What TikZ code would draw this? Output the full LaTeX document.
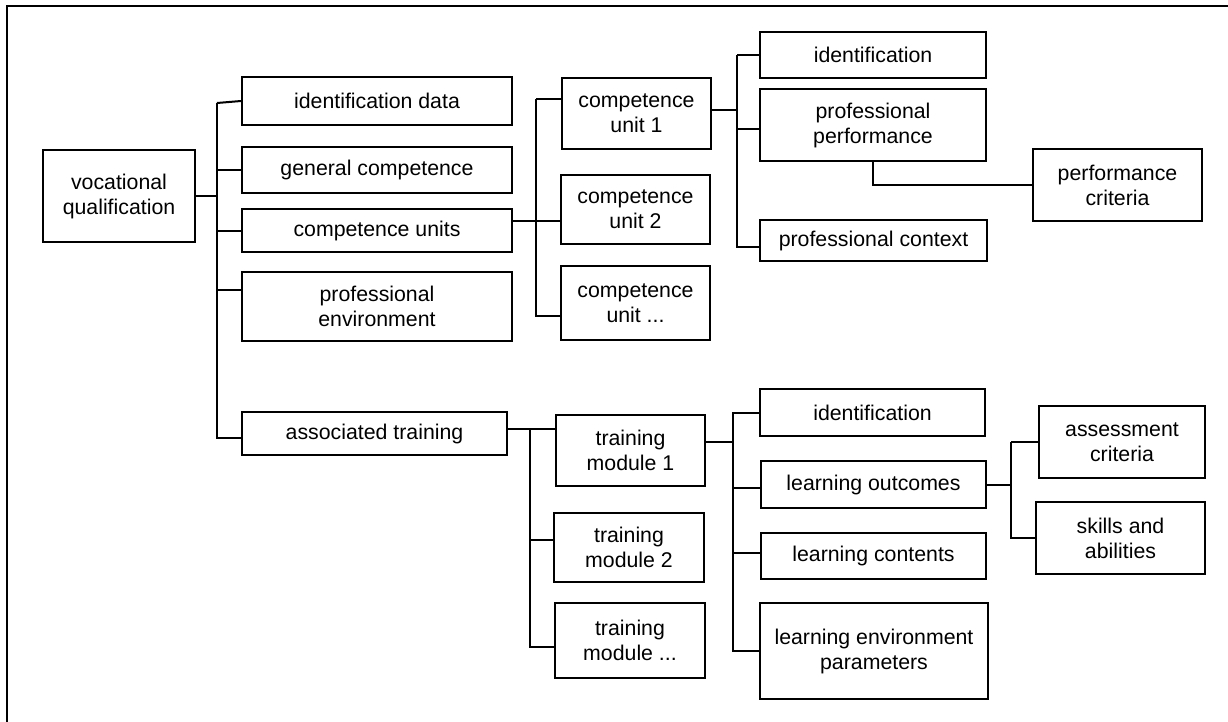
\documentclass[tikz,border=0pt]{standalone}
\usepackage{fontspec}
\setmainfont{Liberation Sans}

\begin{document}
\begin{tikzpicture}[x=1pt, y=-1pt, line width=2pt,
    box/.style={draw, align=center, inner sep=0pt, font=\fontsize{21.3}{25}\selectfont}]
    \useasboundingbox (0,0) rectangle (1228,722);
    % frame
    \draw (7,722) -- (7,6) -- (1228,6);

    % qualification and its parts
    \node[box, minimum width=152pt, minimum height=92pt] (vq) at (119,196) {vocational\\qualification};
    \node[box, minimum width=270pt, minimum height=48pt] (idd) at (377,101) {identification data};
    \node[box, minimum width=270pt, minimum height=46pt] (gc) at (377,170) {general competence};
    \node[box, minimum width=270pt, minimum height=43pt] (cus) at (377,230.5) {competence units};
    \node[box, minimum width=270pt, minimum height=69pt] (pe) at (377,306.5) {professional\\environment};
    \node[box, minimum width=265pt, minimum height=43pt] (at) at (374.5,433.5) {associated training};

    % competence units
    \node[box, minimum width=149pt, minimum height=71pt] (cu1) at (636.5,113.5) {competence\\unit 1};
    \node[box, minimum width=149pt, minimum height=69pt] (cu2) at (635.5,209.5) {competence\\unit 2};
    \node[box, minimum width=149pt, minimum height=74pt] (cu3) at (635.5,303) {competence\\unit ...};
    \node[box, minimum width=226pt, minimum height=46pt] (id1) at (873,55) {identification};
    \node[box, minimum width=226pt, minimum height=72pt] (pp) at (873,125) {professional\\performance};
    \node[box, minimum width=227pt, minimum height=41pt] (pc) at (873.5,240.5) {professional context};
    \node[box, minimum width=169pt, minimum height=72pt] (pcr) at (1117.5,185) {performance\\criteria};

    % training modules
    \node[box, minimum width=149pt, minimum height=71pt] (tm1) at (630.5,450.5) {training\\module 1};
    \node[box, minimum width=150pt, minimum height=69pt] (tm2) at (629,547.5) {training\\module 2};
    \node[box, minimum width=150pt, minimum height=75pt] (tm3) at (630,640.5) {training\\module ...};
    \node[box, minimum width=225pt, minimum height=47pt] (id2) at (872.5,412.5) {identification};
    \node[box, minimum width=225pt, minimum height=47pt] (lo) at (873.5,484.5) {learning outcomes};
    \node[box, minimum width=225pt, minimum height=46pt] (lc) at (873.5,556) {learning contents};
    \node[box, minimum width=228pt, minimum height=96pt] (lep) at (874,651) {learning environment\\parameters};
    \node[box, minimum width=166pt, minimum height=72pt] (ac) at (1122,442) {assessment\\criteria};
    \node[box, minimum width=169pt, minimum height=72pt] (sa) at (1120.5,538) {skills and\\abilities};

    % bus points
    \coordinate (b1) at (217,103);
    \coordinate (b2) at (536,99);
    \coordinate (b3) at (737,55);
    \coordinate (b4) at (530,429);
    \coordinate (b5) at (733,412);
    \coordinate (b6) at (1011,442);

    % connectors
    \draw (vq.east) -| (b1);
    \draw (b1) -- (idd.west);
    \draw (b1) |- (gc.west);
    \draw (b1) |- (cus.west);
    \draw (b1) |- ([yshift=17pt]pe.west);
    \draw (b1) |- ([yshift=-4.5pt]at.west);

    \draw ([yshift=9.5pt]cus.east) -- ([yshift=-11.5pt]cu2.west);
    \draw (b2) -- ([yshift=14.5pt]cu1.west);
    \draw (b2) |- ([yshift=-13pt]cu3.west);

    \draw ([yshift=3.5pt]cu1.east) -| (b3);
    \draw (b3) |- (id1.west);
    \draw (b3) |- ([yshift=-4pt]pp.west);
    \draw (b3) |- ([yshift=-6.5pt]pc.west);
    \draw (pp.south) |- (pcr.west);

    \draw ([yshift=4.5pt]at.east) -- ([yshift=21.5pt]tm1.west);
    \draw (b4) |- ([yshift=7.5pt]tm2.west);
    \draw (b4) |- ([yshift=-6.5pt]tm3.west);

    \draw ([yshift=8.5pt]tm1.east) -| (b5);
    \draw (b5) |- (id2.west);
    \draw (b5) |- ([yshift=-3.5pt]lo.west);
    \draw (b5) |- ([yshift=3pt]lc.west);
    \draw (b5) |- (lep.west);

    \draw (lo.east) -| (b6);
    \draw (b6) -- (ac.west);
    \draw (b6) |- (sa.west);
\end{tikzpicture}
\end{document}
